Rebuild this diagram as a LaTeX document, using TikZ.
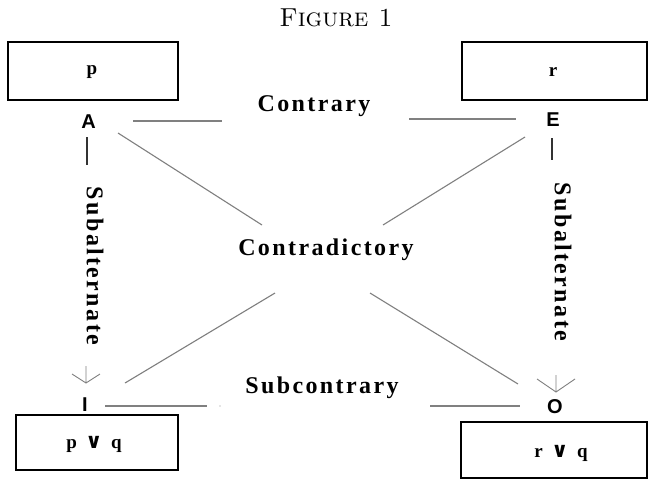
\documentclass[tikz,border=0pt]{standalone}
\usepackage{fontspec}
\newfontfamily\relfont[LetterSpace=10]{Liberation Serif}
\newfontfamily\boxfont{Liberation Serif}
\newfontfamily\cornerfont{Liberation Sans}
\newfontfamily\orfont{DejaVu Sans}
\usetikzlibrary{arrows.meta}
\definecolor{linegray}{RGB}{128,128,128}
\newcommand{\orsign}{{\orfont\bfseries\fontsize{21}{22}\selectfont ∨}}
\begin{document}
\begin{tikzpicture}[x=1pt,y=-1pt,
  propbox/.style={draw=black,line width=1.1pt,inner sep=0pt},
  proptext/.style={font=\boxfont\bfseries\fontsize{19}{22}\selectfont,inner sep=0pt},
  corner/.style={font=\cornerfont\bfseries\fontsize{20}{22}\selectfont,inner sep=0pt},
  relation/.style={font=\relfont\bfseries\fontsize{24}{26}\selectfont,inner sep=0pt},
  relline/.style={draw=linegray,line width=1.1pt},
  subline/.style={draw=black!80,line width=1.1pt},
  subarrow/.style={draw=linegray,line width=0.9pt}]
  \useasboundingbox (0,0) rectangle (655,480);
  \fill[white] (0,0) rectangle (655,480);

  % caption
  \node[font=\fontsize{26}{28}\selectfont,inner sep=0pt] (title) at (336,18) {\textsc{Figure 1}};

  % boxes and the propositions in them
  \node[propbox,minimum width=170pt,minimum height=58pt] (pbox) at (93,71) {};
  \node[propbox,minimum width=185pt,minimum height=58pt] (rbox) at (554.5,71) {};
  \node[propbox,minimum width=162pt,minimum height=55pt] (pqbox) at (97,442.5) {};
  \node[propbox,minimum width=186pt,minimum height=56pt] (rqbox) at (554,450) {};
  \node[proptext] (ptext) at (92,72) {p};
  \node[proptext] (rtext) at (553,72) {r};
  \node[proptext] (pqtext) at (94,444) {p\hspace{0.45em}\orsign\hspace{0.45em}q};
  \node[proptext] (rqtext) at (561,453) {r\hspace{0.45em}\orsign\hspace{0.45em}q};

  % corners of the square
  \node[corner] (A) at (88.5,121.5) {A};
  \node[corner] (E) at (553,120) {E};
  \node[corner] (I) at (85,405) {I};
  \node[corner] (O) at (555,407) {O};

  % relation names
  \node[relation] (contrary) at (314,106) {Contrary};
  \node[relation] (contradictory) at (326,250) {Contradictory};
  \node[relation] (subcontrary) at (322,388) {Subcontrary};
  \node[relation,rotate=-90] (subL) at (95,266) {Subalternate};
  \node[relation,rotate=-90] (subR) at (563,262) {Subalternate};

  % end points of the broken connectors
  \coordinate (ctrL1) at (133,121);  \coordinate (ctrL2) at (222,121);
  \coordinate (ctrR1) at (409,119);  \coordinate (ctrR2) at (516,119);
  \coordinate (subcL1) at (105,406); \coordinate (subcL2) at (207,406);
  \coordinate (subcR1) at (430,406); \coordinate (subcR2) at (520,406);
  \coordinate (dAE1) at (118,133);   \coordinate (dAE2) at (262,225);
  \coordinate (dEI1) at (525,137);   \coordinate (dEI2) at (383,225);
  \coordinate (dIE1) at (275,293);   \coordinate (dIE2) at (125,383);
  \coordinate (dOA1) at (370,293);   \coordinate (dOA2) at (518,384);
  \coordinate (aTop) at (87,137);    \coordinate (aBot) at (87,165);
  \coordinate (eTop) at (552,138);   \coordinate (eBot) at (552,160);
  \coordinate (iArr1) at (86,366);   \coordinate (iArr2) at (86,383);
  \coordinate (oArr1) at (556,375);  \coordinate (oArr2) at (556,392);

  % contrary and subcontrary
  \draw[relline] (ctrL1) -- (ctrL2);
  \draw[relline] (ctrR1) -- (ctrR2);
  \draw[relline] (subcL1) -- (subcL2);
  \draw[relline] (subcR1) -- (subcR2);
  \fill[linegray!40] (220,406) circle (0.8pt);

  % contradictories
  \draw[relline] (dAE1) -- (dAE2);
  \draw[relline] (dEI1) -- (dEI2);
  \draw[relline] (dIE1) -- (dIE2);
  \draw[relline] (dOA1) -- (dOA2);

  % subalternation: short stroke below the universal, open barb above the particular
  \draw[subline] (aTop) -- (aBot);
  \draw[subline] (eTop) -- (eBot);
  \draw[subarrow] (iArr1) -- (iArr2) ++(-14,-9) -- (iArr2) -- ++(14,-9);
  \draw[subarrow] (oArr1) -- (oArr2) ++(-19,-13) -- (oArr2) -- ++(19,-13);
\end{tikzpicture}
\end{document}
